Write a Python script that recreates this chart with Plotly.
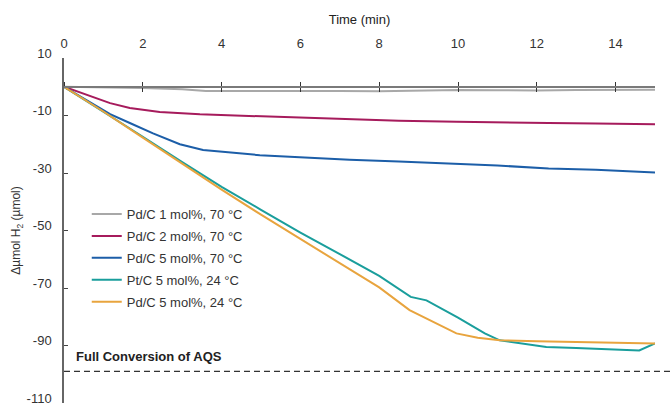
import plotly.graph_objects as go

# ---- data (time in min, Δµmol H2) ----
t_pd1 = [0, 1, 2, 3, 3.6, 5, 6, 7, 8, 9, 10, 11, 12, 13, 14, 15]
v_pd1 = [0, -0.2, -0.4, -0.9, -1.5, -1.5, -1.4, -1.5, -1.6, -1.4, -1.1, -1.2, -1.3, -1.1, -1.0, -1.0]

t_pd2 = [0, 0.5, 1.17, 1.67, 2.43, 3.45, 4.97, 6.0, 7.25, 8.5, 9.97, 11.0, 12.3, 13.5, 15.0]
v_pd2 = [0, -2.5, -5.7, -7.4, -8.8, -9.6, -10.3, -10.8, -11.3, -11.8, -12.2, -12.3, -12.6, -12.8, -13.0]

t_pd5 = [0, 1.17, 1.67, 2.26, 2.94, 3.53, 4.97, 6.0, 7.25, 8.5, 9.79, 11.0, 12.3, 13.5, 15.0]
v_pd5 = [0, -9.5, -12.6, -16.2, -20.0, -22.0, -23.8, -24.6, -25.4, -26.0, -26.7, -27.4, -28.4, -28.9, -29.8]

t_pt5_24 = [0, 1, 2, 3, 4, 5, 6, 7, 8, 8.8, 9.2, 10.0, 10.68, 11.06, 12.24, 13.0, 14.0, 14.6, 15.0]
v_pt5_24 = [0, -8.6, -17.4, -26.2, -34.8, -42.8, -50.7, -58.2, -65.8, -73.1, -74.3, -80.3, -85.8, -88.2, -90.5, -90.9, -91.3, -91.7, -89.3]

t_pd5_24 = [0, 1, 2, 3, 4, 5, 6, 7, 8, 8.77, 9.5, 9.96, 10.5, 11.06, 12.0, 13.0, 13.76, 14.5, 15.0]
v_pd5_24 = [0, -8.6, -17.7, -26.8, -35.8, -44.5, -53.0, -61.2, -69.8, -77.7, -82.8, -85.8, -87.3, -88.2, -88.5, -88.8, -88.8, -89.0, -89.3]

series_names = ["Pd/C 1 mol%, 70 °C", "Pd/C 2 mol%, 70 °C", "Pd/C 5 mol%, 70 °C",
                "Pt/C 5 mol%, 24 °C", "Pd/C 5 mol%, 24 °C"]
series_x = [t_pd1, t_pd2, t_pd5, t_pt5_24, t_pd5_24]
series_y = [v_pd1, v_pd2, v_pd5, v_pt5_24, v_pd5_24]
colors = ["#a8a8a8", "#a61b5c", "#1c5ea8", "#1a9e9c", "#e8a43e"]

full_conversion = -99
full_conversion_label = "Full Conversion of AQS"
x_ticks = [0, 2, 4, 6, 8, 10, 12, 14]
y_ticks = [10, -10, -30, -50, -70, -90, -110]
y_ticktext = ["10", "-10", "-30", "-50", "-70", "-90", "-110"]

FONT = "Liberation Sans, Arial, Helvetica, sans-serif"

fig = go.Figure()
for i, (name, xs, ys, c) in enumerate(zip(series_names, series_x, series_y, colors)):
    fig.add_trace(go.Scatter(x=xs, y=ys, mode="lines", name=name,
                             line=dict(color=c, width=2), legendgroup=f"g{i}"))

fig.add_shape(type="line", xref="paper", x0=0, x1=1.03, yref="y",
              y0=full_conversion, y1=full_conversion,
              line=dict(color="#333333", width=1.3, dash="6px,4px"))
fig.add_annotation(x=0, y=full_conversion, xref="x", yref="y", xanchor="left", yanchor="bottom",
                   xshift=10, yshift=5, text=f"<b>{full_conversion_label}</b>", showarrow=False,
                   font=dict(family=FONT, size=13, color="#222222"))

common_x = dict(range=[0, 15], tickvals=x_ticks, showgrid=False, zeroline=False, automargin=False)

fig.update_layout(
    width=670, height=408,
    margin=dict(l=64, r=14.5, t=58, b=5, autoexpand=False),
    paper_bgcolor="white", plot_bgcolor="white",
    font=dict(family=FONT, size=13, color="#333333"),
    showlegend=True,
    legend=dict(x=0.0385, y=0.591, xanchor="left", yanchor="top", bgcolor="rgba(0,0,0,0)",
                font=dict(family=FONT, size=13, color="#333333"), tracegroupgap=2),
    xaxis=dict(**common_x, side="top", showline=False, ticks="",
               title=dict(text="Time (min)", font=dict(size=13, color="#222222"), standoff=8),
               ticklabelstandoff=6),
    xaxis2=dict(**common_x, overlaying="x", anchor="free", position=110/120, side="top",
                showline=True, linecolor="#7a7a7a", linewidth=2, ticks="outside", ticklen=4,
                tickcolor="#333333", tickwidth=1, showticklabels=False),
    xaxis3=dict(**common_x, overlaying="x", anchor="free", position=110/120, side="top",
                showline=False, ticks="inside", ticklen=4,
                tickcolor="#333333", tickwidth=1, showticklabels=False),
    yaxis=dict(range=[-110, 10], tickvals=y_ticks, ticktext=y_ticktext, showgrid=False, zeroline=False,
               showline=True, linecolor="#666666", linewidth=1.5, ticks="inside", ticklen=4,
               tickcolor="#444444", ticklabelstandoff=8, ticklabelshift=-5,
               ticklabeloverflow="allow", automargin=False,
               title=dict(text="Δµmol H<sub>2</sub> (µmol)", font=dict(size=12, color="#333333"), standoff=3)),
)
# invisible traces to activate the overlaid zero-line axes
fig.add_trace(go.Scatter(x=[0], y=[0], xaxis="x2", mode="markers", marker=dict(opacity=0), showlegend=False, hoverinfo="skip"))
fig.add_trace(go.Scatter(x=[0], y=[0], xaxis="x3", mode="markers", marker=dict(opacity=0), showlegend=False, hoverinfo="skip"))

fig.write_html("out.html")
